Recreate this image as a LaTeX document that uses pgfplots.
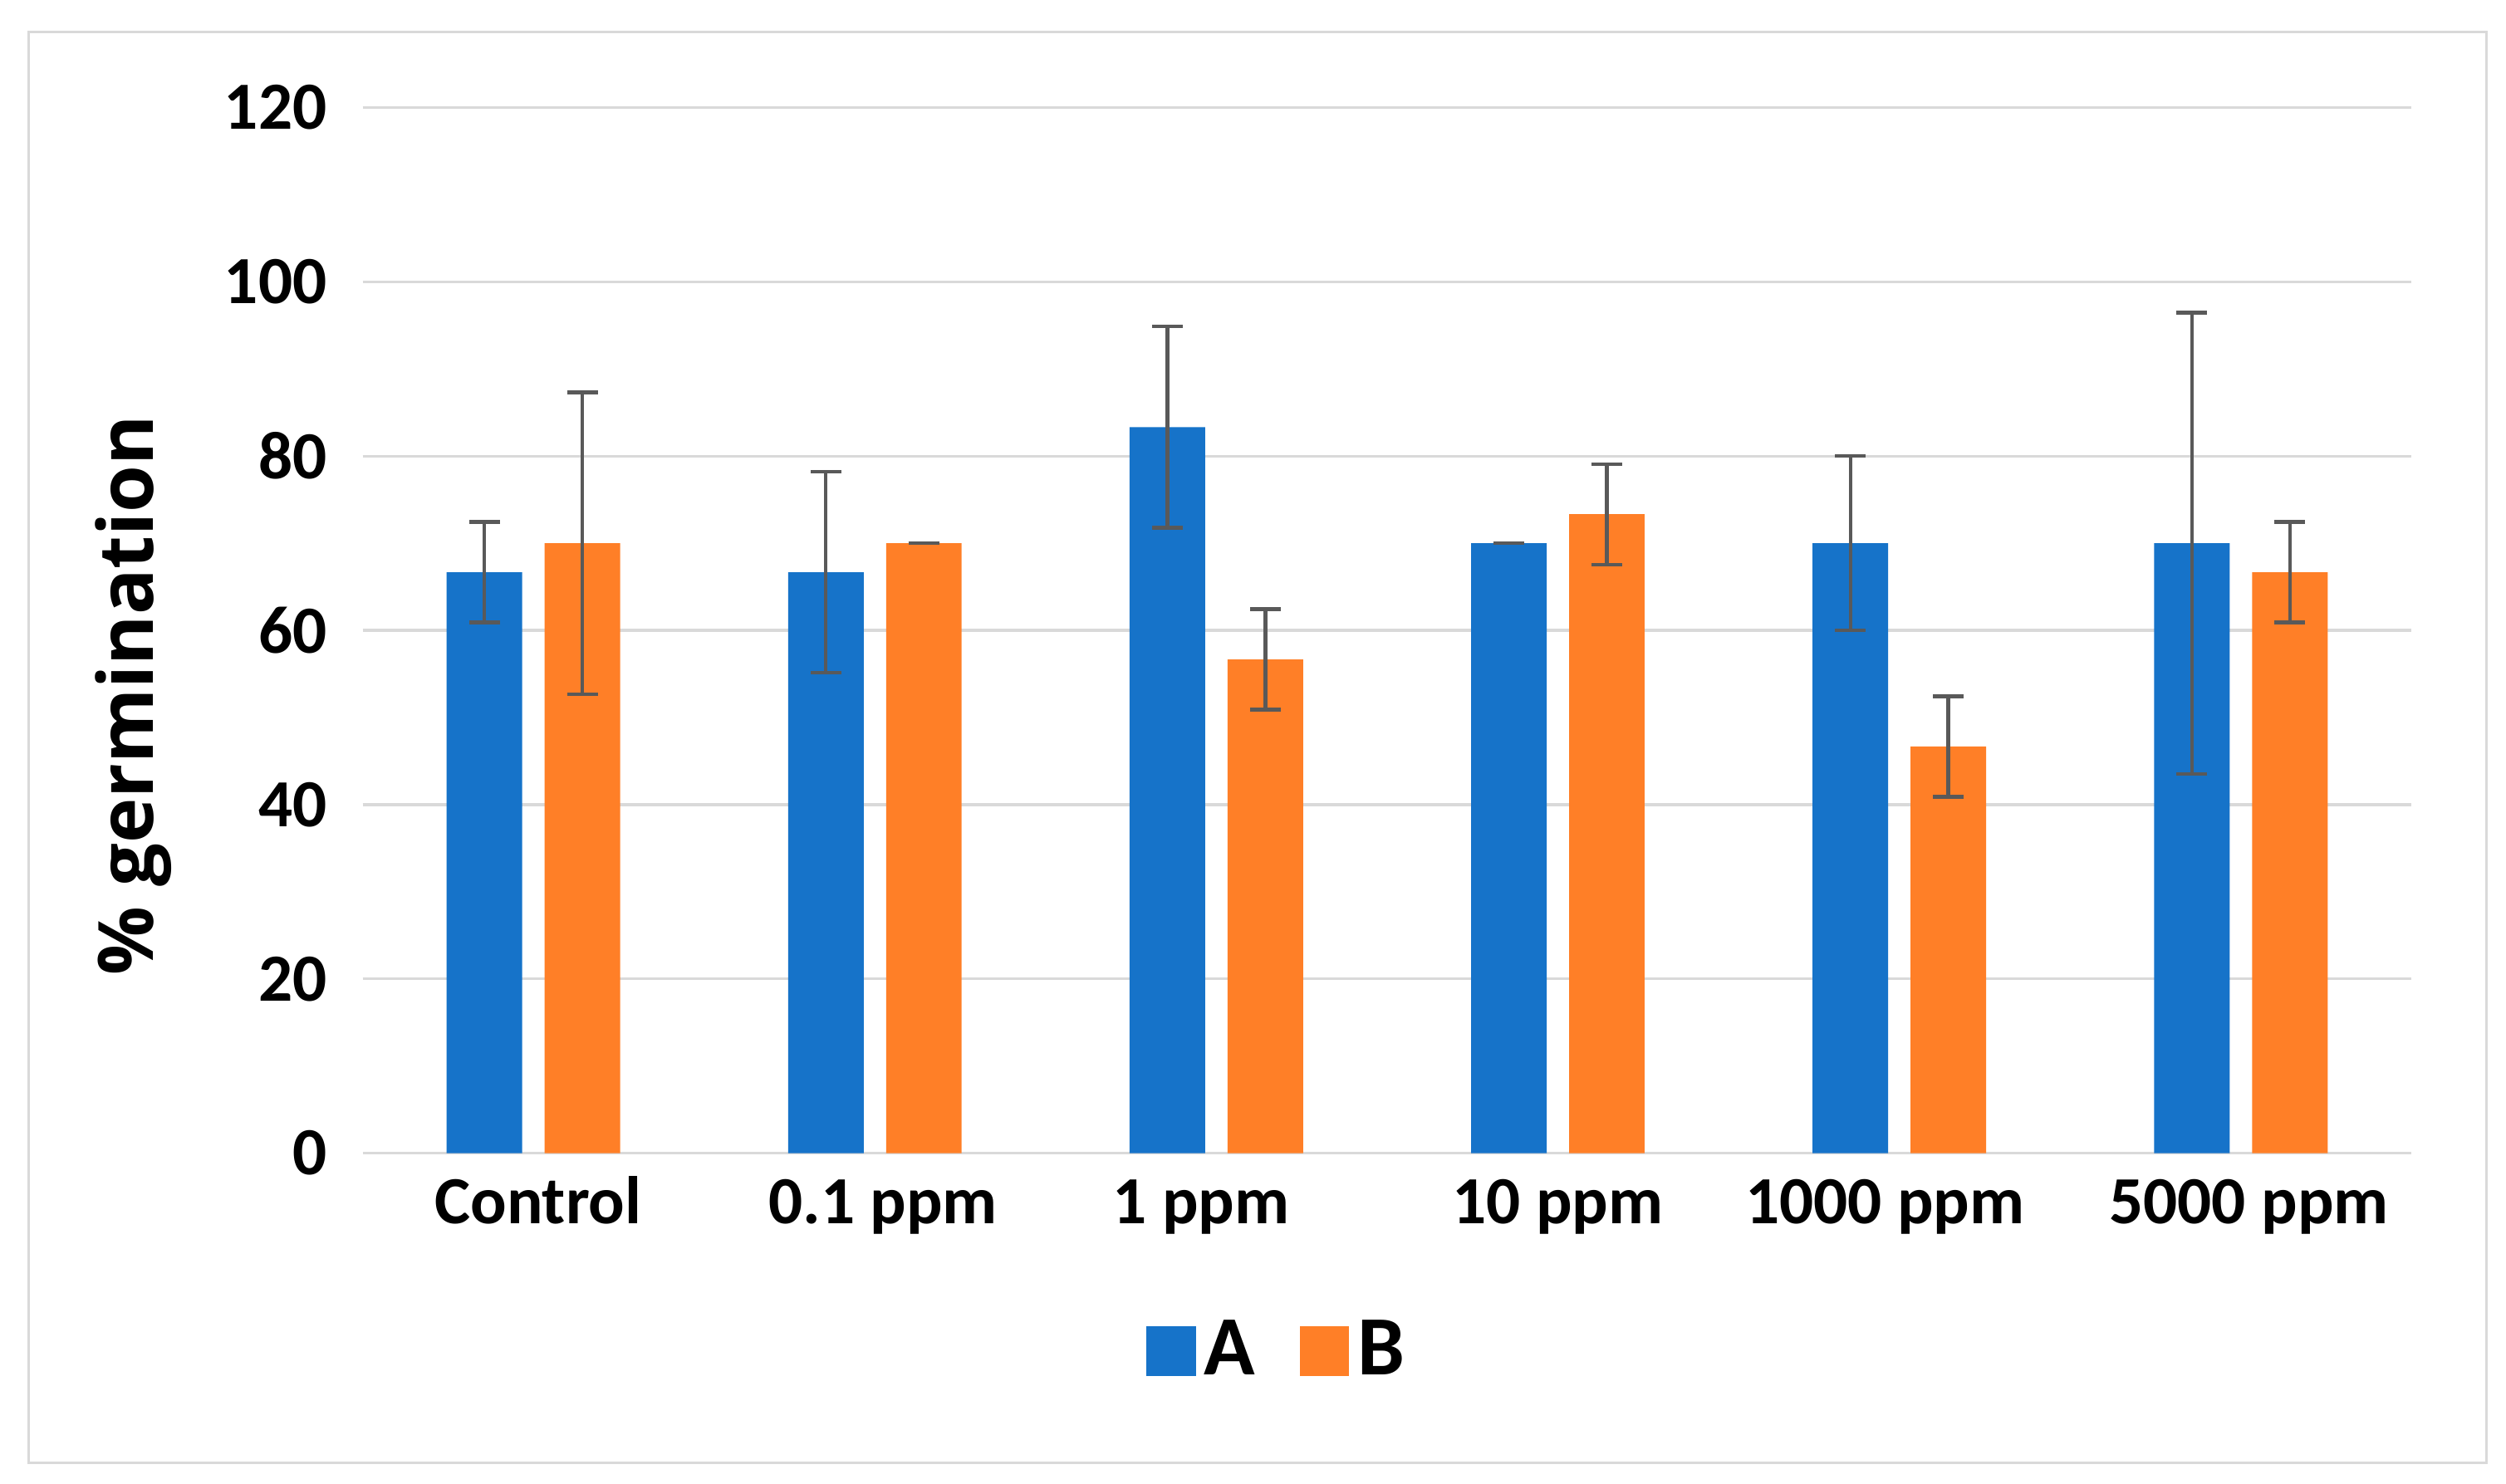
\documentclass[border=0pt]{standalone}
\usepackage{fontspec}
\setmainfont{Carlito}
\newfontfamily\labfont{Open Sans}
\usepackage{pgfplots}
\pgfplotsset{compat=1.18}

\definecolor{barA}{RGB}{22,115,201}
\definecolor{barB}{RGB}{255,127,39}
\definecolor{errgray}{RGB}{89,89,89}
\definecolor{gridgray}{RGB}{217,217,217}

\begin{document}
\begin{tikzpicture}
% page size and outer frame, relative to the plot area's lower left corner
\path[use as bounding box] (-90.3pt,-82.4pt) rectangle (533.7pt,287.2pt);
\draw[gridgray, line width=0.6pt] (-83.1pt,-77.2pt) rectangle (528.9pt,279.2pt);
\begin{axis}[
    scale only axis,
    width=510.2pt,
    height=260.4pt,
    ybar=5.6pt,
    bar width=18.8pt,
    xmin=-0.5, xmax=5.5,
    ymin=0, ymax=120,
    xtick={0,1,2,3,4,5},
    % the labels sit a little off centre in the original, the leading space nudges them
    xticklabels={\hspace*{2.4pt}Control, \hspace*{4pt}0.1 ppm, \hspace*{-7.6pt}1 ppm,
        10 ppm, \hspace*{-7.2pt}1000 ppm, \hspace*{4pt}5000 ppm},
    ytick={0,20,...,120},
    axis line style={draw=none},
    tick style={draw=none},
    major tick length=0pt,
    ymajorgrids,
    major grid style={gridgray, line width=0.7pt},
    /pgf/number format/assume math mode=true,
    ticklabel style={font=\bfseries\fontsize{16.8}{20}\selectfont},
    yticklabel style={xshift=-5.4pt},
    xticklabel style={yshift=-2pt, text height=12pt},
    ylabel={\labfont\bfseries\% germination},
    ylabel style={font=\fontsize{19}{22}\selectfont, at={(axis description cs:-0.112,0.438)}, anchor=center},
    legend columns=2,
    legend style={draw=none, fill=none, at={(axis description cs:0.4475,-0.189)}, anchor=center,
        font=\bfseries\fontsize{21}{25}\selectfont,
        /tikz/every even column/.append style={column sep=9pt}},
    legend image code/.code={\fill[#1] (0pt,-6.2pt) rectangle (12.4pt,6.2pt);},
    error bars/error mark=|,
    error bars/error bar style={errgray, line width=0.9pt},
    error bars/error mark options={errgray, line width=0.9pt, mark size=3.8pt},
]
\addplot[fill=barA, draw=none, error bars/.cd, y dir=both, y explicit] coordinates {
    (0,66.67) +- (0,5.77)
    (1,66.67) +- (0,11.55)
    (2,83.33) +- (0,11.55)
    (3,70.00) +- (0,0)
    (4,70.00) +- (0,10.00)
    (5,70.00) +- (0,26.46)
};
\addplot[fill=barB, draw=none, error bars/.cd, y dir=both, y explicit] coordinates {
    (0,70.00) +- (0,17.32)
    (1,70.00) +- (0,0)
    (2,56.67) +- (0,5.77)
    (3,73.33) +- (0,5.77)
    (4,46.67) +- (0,5.77)
    (5,66.67) +- (0,5.77)
};
\legend{A, B}
\end{axis}
\end{tikzpicture}
\end{document}
